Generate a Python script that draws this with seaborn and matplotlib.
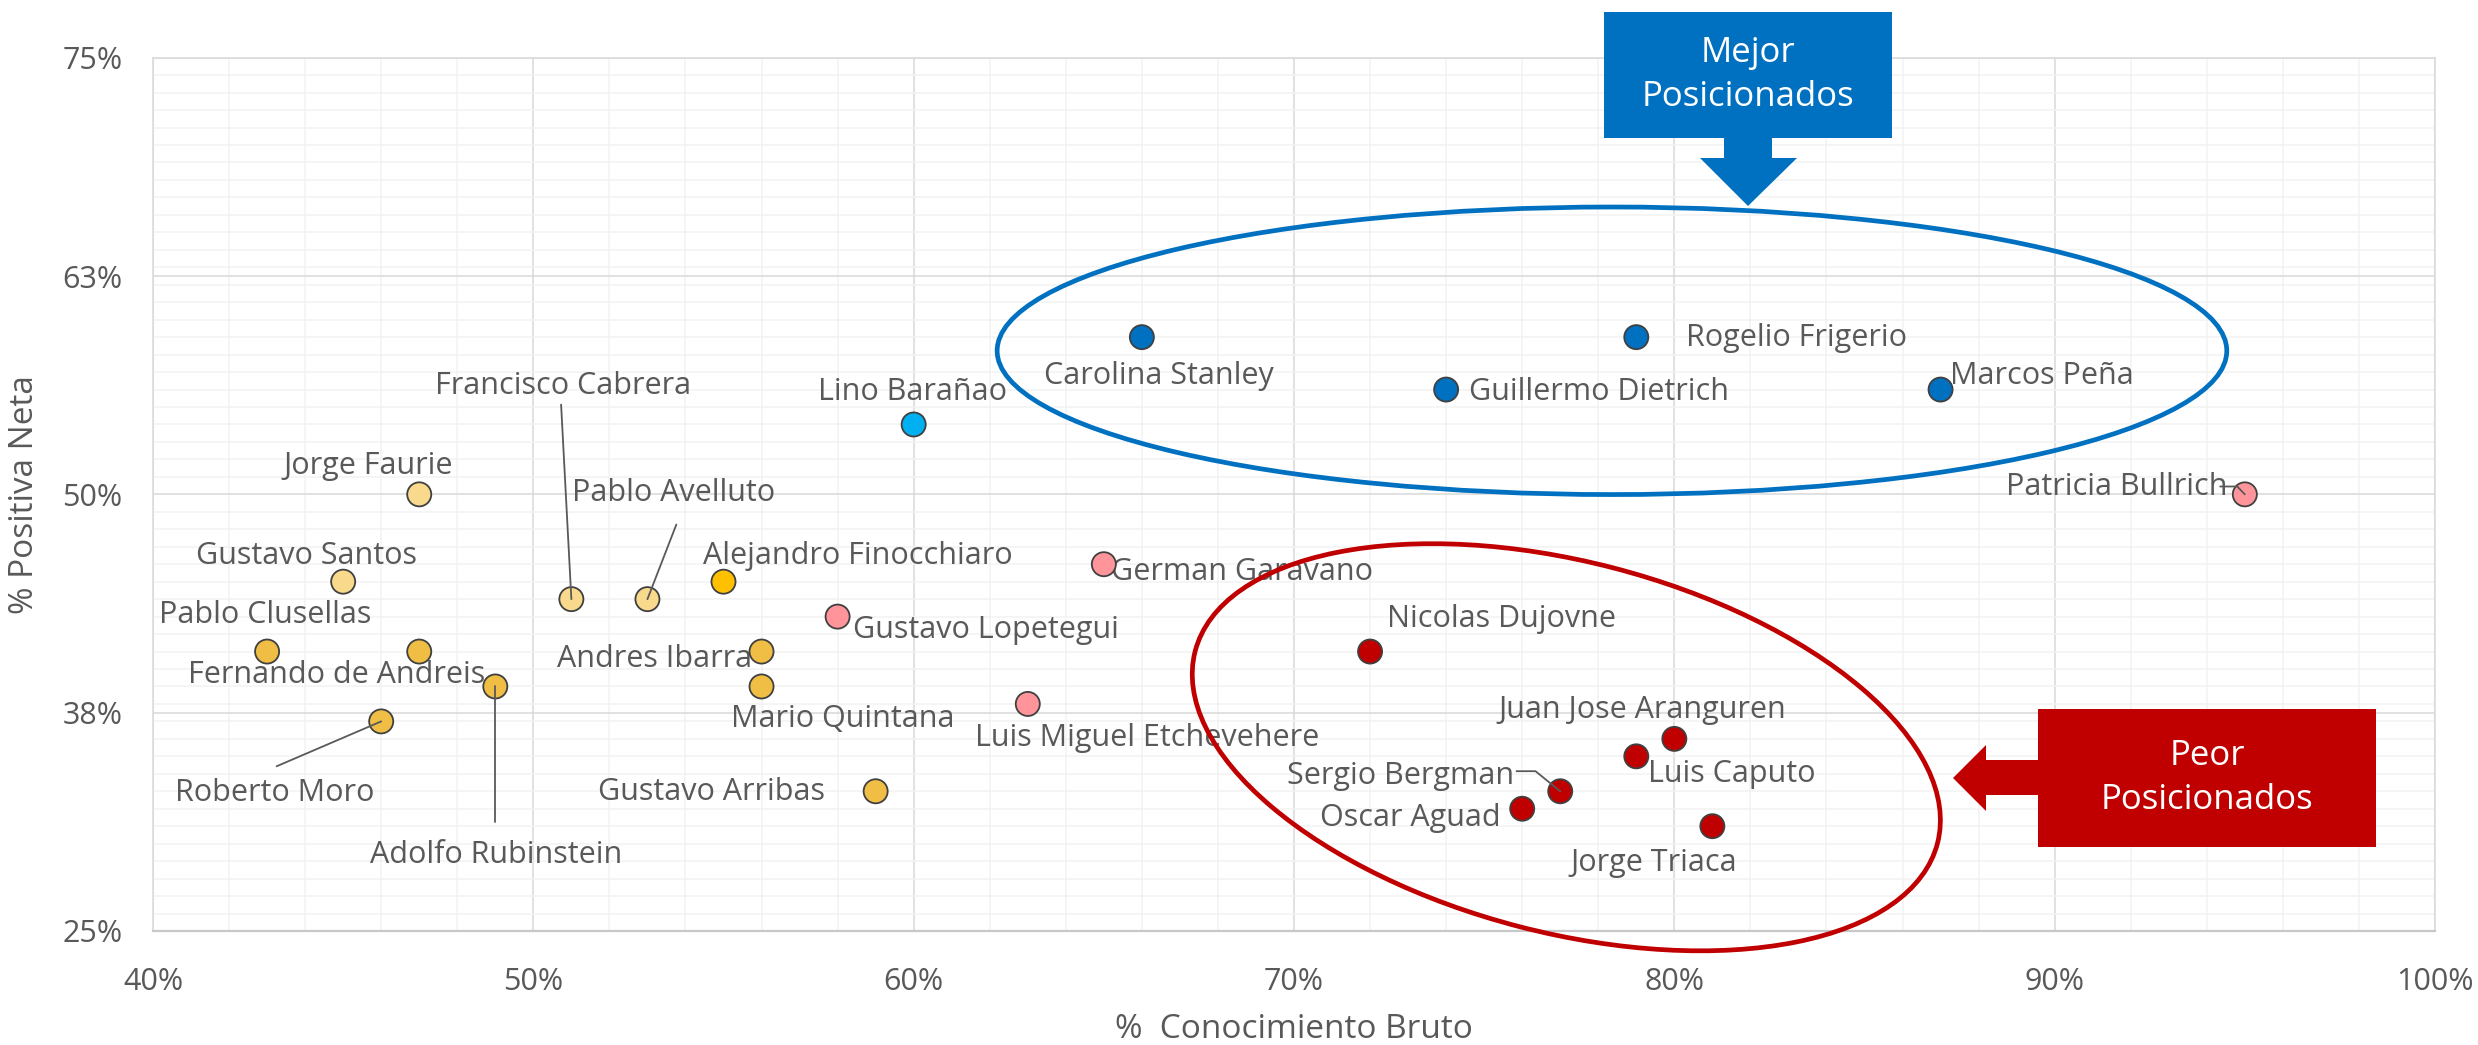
import numpy as np
import pandas as pd
import matplotlib
matplotlib.use("Agg")
import matplotlib.pyplot as plt
import matplotlib.transforms as mtransforms
from matplotlib.patches import Ellipse, Polygon
from matplotlib.ticker import MultipleLocator, FuncFormatter
import seaborn as sns

# datos (% conocimiento bruto, % positiva neta)
nombres = ["Jorge Faurie", "Gustavo Santos", "Pablo Clusellas", "Fernando de Andreis",
           "Roberto Moro", "Adolfo Rubinstein", "Francisco Cabrera", "Pablo Avelluto",
           "Alejandro Finocchiaro", "Andres Ibarra", "Mario Quintana", "Gustavo Arribas",
           "Gustavo Lopetegui", "Lino Barañao", "Luis Miguel Etchevehere", "German Garavano",
           "Carolina Stanley", "Guillermo Dietrich", "Rogelio Frigerio", "Marcos Peña",
           "Patricia Bullrich", "Nicolas Dujovne", "Juan Jose Aranguren", "Luis Caputo",
           "Sergio Bergman", "Oscar Aguad", "Jorge Triaca"]
conocimiento = [47, 45, 43, 47, 46, 49, 51, 53, 55, 56, 56, 59, 58, 60, 63, 65,
                66, 74, 79, 87, 95, 72, 80, 79, 77, 76, 81]
positiva = [50, 45, 41, 41, 37, 39, 44, 44, 45, 41, 39, 33, 43, 54, 38, 46,
            59, 56, 59, 56, 50, 41, 36, 35, 33, 32, 31]
grupo = ["oro_claro", "oro_claro", "oro", "oro", "oro", "oro", "oro_claro", "oro_claro",
         "oro_fuerte", "oro", "oro", "oro", "rosa", "celeste", "rosa", "rosa",
         "azul", "azul", "azul", "azul", "rosa", "rojo", "rojo", "rojo", "rojo", "rojo", "rojo"]

colores = {"oro_claro": "#F9D98B", "oro": "#F0BE45", "oro_fuerte": "#FFC000",
           "rosa": "#FF959B", "celeste": "#00B0F0", "azul": "#0070C0", "rojo": "#C00000"}

# posicion de cada etiqueta (centro del texto, en unidades de los ejes)
pos_etiqueta = {
    "Jorge Faurie": (45.66, 51.62), "Gustavo Santos": (44.04, 46.46),
    "Pablo Clusellas": (42.96, 43.11), "Fernando de Andreis": (44.83, 39.68),
    "Roberto Moro": (43.21, 32.89), "Adolfo Rubinstein": (49.02, 29.36),
    "Francisco Cabrera": (50.77, 56.23), "Pablo Avelluto": (53.68, 50.08),
    "Alejandro Finocchiaro": (58.54, 46.46), "Andres Ibarra": (53.18, 40.58),
    "Mario Quintana": (58.13, 37.14), "Gustavo Arribas": (54.68, 32.98),
    "Gustavo Lopetegui": (61.91, 42.21), "Lino Barañao": (59.96, 55.87),
    "Luis Miguel Etchevehere": (66.15, 36.06), "German Garavano": (68.64, 45.56),
    "Carolina Stanley": (66.44, 56.77), "Guillermo Dietrich": (78.03, 55.87),
    "Rogelio Frigerio": (83.22, 58.94), "Marcos Peña": (89.67, 56.77),
    "Patricia Bullrich": (91.62, 50.44), "Nicolas Dujovne": (75.46, 42.84),
    "Juan Jose Aranguren": (79.15, 37.68), "Luis Caputo": (81.52, 33.98),
    "Sergio Bergman": (72.80, 33.88), "Oscar Aguad": (73.05, 31.45),
    "Jorge Triaca": (79.45, 28.91),
}
# lineas guia: etiqueta -> punto
guias = {
    "Roberto Moro": [(43.25, 34.43)],
    "Adolfo Rubinstein": [(49.0, 31.26)],
    "Francisco Cabrera": [(50.73, 55.14)],
    "Pablo Avelluto": [(53.76, 48.27)],
    "Sergio Bergman": [(75.85, 34.15), (76.35, 34.15)],
    "Patricia Bullrich": [(94.35, 50.45), (94.8, 50.45)],
}

df = pd.DataFrame({"nombre": nombres, "conocimiento": conocimiento,
                   "positiva": positiva, "grupo": grupo})

sns.set_theme(style="white")
plt.rcParams["font.family"] = ["Open Sans", "DejaVu Sans"]

W, H = 2478, 1045
fig = plt.figure(figsize=(W / 100, H / 100), dpi=100)
ax = fig.add_axes([153 / W, 1 - 931 / H, (2435 - 153) / W, (931 - 57.7) / H])

gris = "#595959"
sns.scatterplot(data=df, x="conocimiento", y="positiva", hue="grupo", palette=colores,
                s=300, edgecolor="#404040", linewidth=1.3, legend=False, zorder=4, ax=ax)

ax.set_xlim(40, 100)
ax.set_ylim(25, 75)
ax.xaxis.set_major_locator(MultipleLocator(10))
ax.xaxis.set_minor_locator(MultipleLocator(2))
ax.yaxis.set_major_locator(MultipleLocator(12.5))
ax.yaxis.set_minor_locator(MultipleLocator(1))
ax.xaxis.set_major_formatter(FuncFormatter(lambda v, p: f"{int(np.floor(v + 0.5))}%"))
ax.yaxis.set_major_formatter(FuncFormatter(lambda v, p: f"{int(np.floor(v + 0.5))}%"))
ax.grid(which="major", color="#D9D9D9", linewidth=1.1, zorder=0)
ax.grid(which="minor", color="#F2F2F2", linewidth=1.1, zorder=0)
ax.set_axisbelow(True)
for lado in ["top", "right", "left", "bottom"]:
    ax.spines[lado].set_color("#D9D9D9")
    ax.spines[lado].set_linewidth(1.1)
ax.spines["bottom"].set_color("#C8C8C8")
ax.spines["bottom"].set_linewidth(1.6)
ax.tick_params(which="major", length=7, width=1.1, color="#D0D0D0",
               labelsize=22, labelcolor=gris)
ax.tick_params(axis="y", pad=15)
ax.tick_params(axis="x", pad=19)
ax.tick_params(which="minor", length=0)

ax.set_xlabel("%  Conocimiento Bruto", fontsize=24, color=gris, va="center")
ax.set_ylabel("% Positiva Neta", fontsize=24, color=gris, va="center")
ax.xaxis.set_label_coords(0.5, -0.113)
ax.yaxis.set_label_coords(-0.0565, 0.5)

for n, xv, yv in zip(nombres, conocimiento, positiva):
    tx, ty = pos_etiqueta[n]
    ax.text(tx, ty, n, ha="center", va="center", fontsize=22, color=gris, zorder=3)
    if n in guias:
        pts = guias[n] + [(xv, yv)]
        ax.plot([p[0] for p in pts], [p[1] for p in pts], color=gris,
                linewidth=1.3, zorder=5)

# elipses en un sistema isotropico (unidad = 1% del eje x)
r = (2282 / 60) / (873.3 / 50)
for cx, cy, w, h, ang, col in [(78.36, 58.22, 32.33, 7.56, 0, "#0070C0"),
                               (77.16, 35.52, 20.16, 9.75, -14.5, "#C00000")]:
    tr = mtransforms.Affine2D().scale(1, r).translate(cx, cy) + ax.transData
    ax.add_patch(Ellipse((0, 0), w, h, angle=ang, fill=False, edgecolor=col,
                         linewidth=3.4, transform=tr, clip_on=False, zorder=6))

# recuadros con flecha (pixeles de la figura, y hacia abajo)
trf = mtransforms.Affine2D().scale(1 / W, -1 / H).translate(0, 1) + fig.transFigure
azul = [(1604, 12), (1892, 12), (1892, 138), (1772, 138), (1772, 158), (1797, 158),
        (1748, 206), (1700, 158), (1724, 158), (1724, 138), (1604, 138)]
rojo = [(2038, 709), (2376, 709), (2376, 847), (2038, 847), (2038, 795), (1986, 795),
        (1986, 811), (1953, 778), (1986, 745), (1986, 760), (2038, 760)]
fig.patches.append(Polygon(azul, closed=True, facecolor="#0070C0", edgecolor="none",
                           transform=trf, figure=fig))
fig.patches.append(Polygon(rojo, closed=True, facecolor="#C00000", edgecolor="none",
                           transform=trf, figure=fig))
fig.text(1748 / W, 1 - 75 / H, "Mejor\nPosicionados", ha="center", va="center",
         fontsize=25, color="white", linespacing=1.4)
fig.text(2207 / W, 1 - 778 / H, "Peor\nPosicionados", ha="center", va="center",
         fontsize=25, color="white", linespacing=1.4)

fig.savefig("out.png", dpi=100)
